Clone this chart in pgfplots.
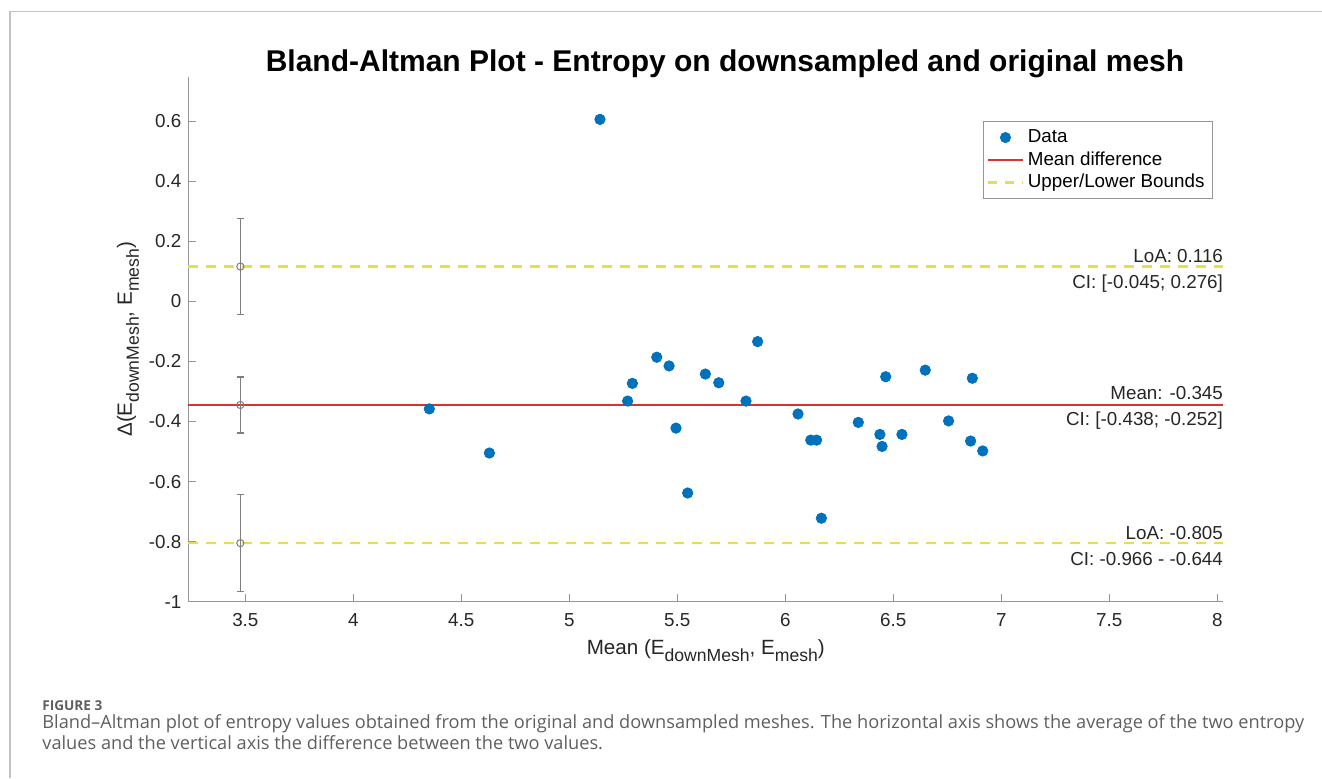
\documentclass[border=0pt]{standalone}
\usepackage{fontspec}
\setmainfont{Liberation Sans}
\newfontfamily\capfont{Open Sans}
\usepackage{pgfplots}
\usepackage{pgfplotstable}
\pgfplotsset{compat=1.18}
\definecolor{mblue}{RGB}{0,114,189}
\definecolor{mred}{RGB}{220,50,47}
\definecolor{myel}{RGB}{228,224,70}
\definecolor{axgray}{RGB}{150,150,150}
\definecolor{ebgray}{RGB}{125,125,125}
\definecolor{txt}{RGB}{38,38,38}
\definecolor{capgray}{RGB}{95,95,95}
\definecolor{framegray}{RGB}{195,195,195}
\newcommand{\pxy}[2]{({#1*0.5pt},{-#2*0.5pt})}
\newcommand{\tfont}{\fontsize{9.4}{11}\selectfont}
\newcommand{\lfont}{\fontsize{10.3}{12}\selectfont}
\newcommand{\sub}[1]{\raisebox{-3.5pt}{\fontsize{8.8}{10}\selectfont #1}}

\pgfplotstableread{
x y
4.352 -0.358
4.630 -0.505
5.142 0.606
5.270 -0.332
5.292 -0.273
5.405 -0.186
5.462 -0.215
5.494 -0.422
5.548 -0.638
5.630 -0.242
5.692 -0.271
5.818 -0.332
5.872 -0.134
6.059 -0.375
6.118 -0.462
6.145 -0.462
6.167 -0.722
6.338 -0.403
6.438 -0.443
6.448 -0.483
6.465 -0.251
6.540 -0.443
6.648 -0.229
6.756 -0.398
6.858 -0.465
6.866 -0.256
6.914 -0.498
}\datatable

\begin{document}
\begin{tikzpicture}
\useasboundingbox (0,0) rectangle (661pt,-389pt);
\draw[framegray, line width=0.6pt] \pxy{10}{778} -- \pxy{10}{11.7} -- \pxy{1322}{11.7};
\node[anchor=base, font=\fontsize{15}{17}\selectfont\bfseries, inner sep=0pt] at \pxy{725}{71} {Bland-Altman Plot - Entropy on downsampled and original mesh};

\begin{axis}[
  at={(94.15pt,-300.85pt)}, anchor=south west,
  scale only axis, width=517.5pt, height=262.35pt,
  xmin=3.236, xmax=8.028, ymin=-1, ymax=0.747,
  axis x line*=bottom, axis y line*=left,
  axis line style={axgray, line width=0.6pt},
  xtick={3.5,4,4.5,5,5.5,6,6.5,7,7.5,8},
  ytick={-1,-0.8,-0.6,-0.4,-0.2,0,0.2,0.4,0.6},
  yticklabels={-1,-0.8,-0.6,-0.4,-0.2,0,0.2,0.4,0.6},
  xticklabels={3.5,4,4.5,5,5.5,6,6.5,7,7.5,8},
  tick align=inside, major tick length=4pt,
  tick style={axgray, line width=0.5pt},
  ticklabel style={font=\tfont, text=txt},
  xticklabel style={yshift=-2.5pt},
  /pgf/number format/assume math mode=true,
  clip=false,
  xlabel={Mean (E\sub{downMesh}, E\sub{mesh})},
  ylabel={Δ(E\sub{downMesh}, E\sub{mesh})},
  label style={font=\lfont, text=txt},
  xlabel style={at={(axis description cs:0.5,0)}, anchor=base, yshift=-26.6pt},
  ylabel style={yshift=-2pt},
  legend style={at={(0.990,0.916)}, anchor=north east, draw=axgray, line width=0.5pt,
    fill=white, font=\tfont, text=black, row sep=-1pt, inner sep=2pt},
  legend cell align=left,
]
\addlegendimage{only marks, mark=*, mark size=2.5pt, mblue}
\addlegendentry{Data}
\addlegendimage{mred, line width=1.1pt}
\addlegendentry{Mean difference}
\addlegendimage{myel, line width=1.3pt, dash pattern=on 4.5pt off 4pt}
\addlegendentry{Upper/Lower Bounds}

\addplot[mred, line width=1.1pt, forget plot] coordinates {(3.236,-0.345) (8.028,-0.345)};
\addplot[myel, line width=1.3pt, dash pattern=on 5pt off 4pt, forget plot] coordinates {(3.236,0.116) (8.028,0.116)};
\addplot[myel, line width=1.3pt, dash pattern=on 5pt off 4pt, forget plot] coordinates {(3.236,-0.805) (8.028,-0.805)};

\addplot[ebgray, only marks, mark=o, mark size=1.8pt, line width=0.5pt, forget plot,
  error bars/.cd, y dir=both, y explicit,
  error bar style={line width=0.6pt, ebgray},
  error mark options={rotate=90, mark size=1.9pt, ebgray, line width=0.6pt}]
  coordinates {
  (3.477,0.116) += (0,0.160) -= (0,0.161)
  (3.477,-0.345) += (0,0.093) -= (0,0.093)
  (3.477,-0.805) += (0,0.161) -= (0,0.161)
  };

\addplot[only marks, mark=*, mark size=2.6pt, mblue, forget plot] table {\datatable};

\node[anchor=base east, inner sep=0pt, font=\tfont, text=txt, yshift=2pt] at (axis cs:8.028,0.116) {LoA: 0.116};
\node[anchor=base east, inner sep=0pt, font=\tfont, text=txt, yshift=-11pt] at (axis cs:8.028,0.116) {CI: [-0.045; 0.276]};
\node[anchor=base east, inner sep=0pt, font=\tfont, text=txt, yshift=2.5pt] at (axis cs:8.028,-0.345) {Mean: -0.345};
\node[anchor=base east, inner sep=0pt, font=\tfont, text=txt, yshift=-10.5pt] at (axis cs:8.028,-0.345) {CI: [-0.438; -0.252]};
\node[anchor=base east, inner sep=0pt, font=\tfont, text=txt, yshift=2pt] at (axis cs:8.028,-0.805) {LoA: -0.805};
\node[anchor=base east, inner sep=0pt, font=\tfont, text=txt, yshift=-11pt] at (axis cs:8.028,-0.805) {CI: -0.966 - -0.644};
\end{axis}

\node[anchor=base west, inner sep=0pt, font=\capfont\fontsize{6.8}{8}\selectfont\bfseries, text=capgray] at \pxy{42}{710.5} {FIGURE 3};
\node[anchor=base west, inner sep=0pt, font=\capfont\fontsize{9.1}{10}\selectfont, text=capgray] at \pxy{42}{728} {Bland–Altman plot of entropy values obtained from the original and downsampled meshes. The horizontal axis shows the average of the two entropy};
\node[anchor=base west, inner sep=0pt, font=\capfont\fontsize{9.1}{10}\selectfont, text=capgray] at \pxy{42}{749} {values and the vertical axis the difference between the two values.};
\end{tikzpicture}
\end{document}
